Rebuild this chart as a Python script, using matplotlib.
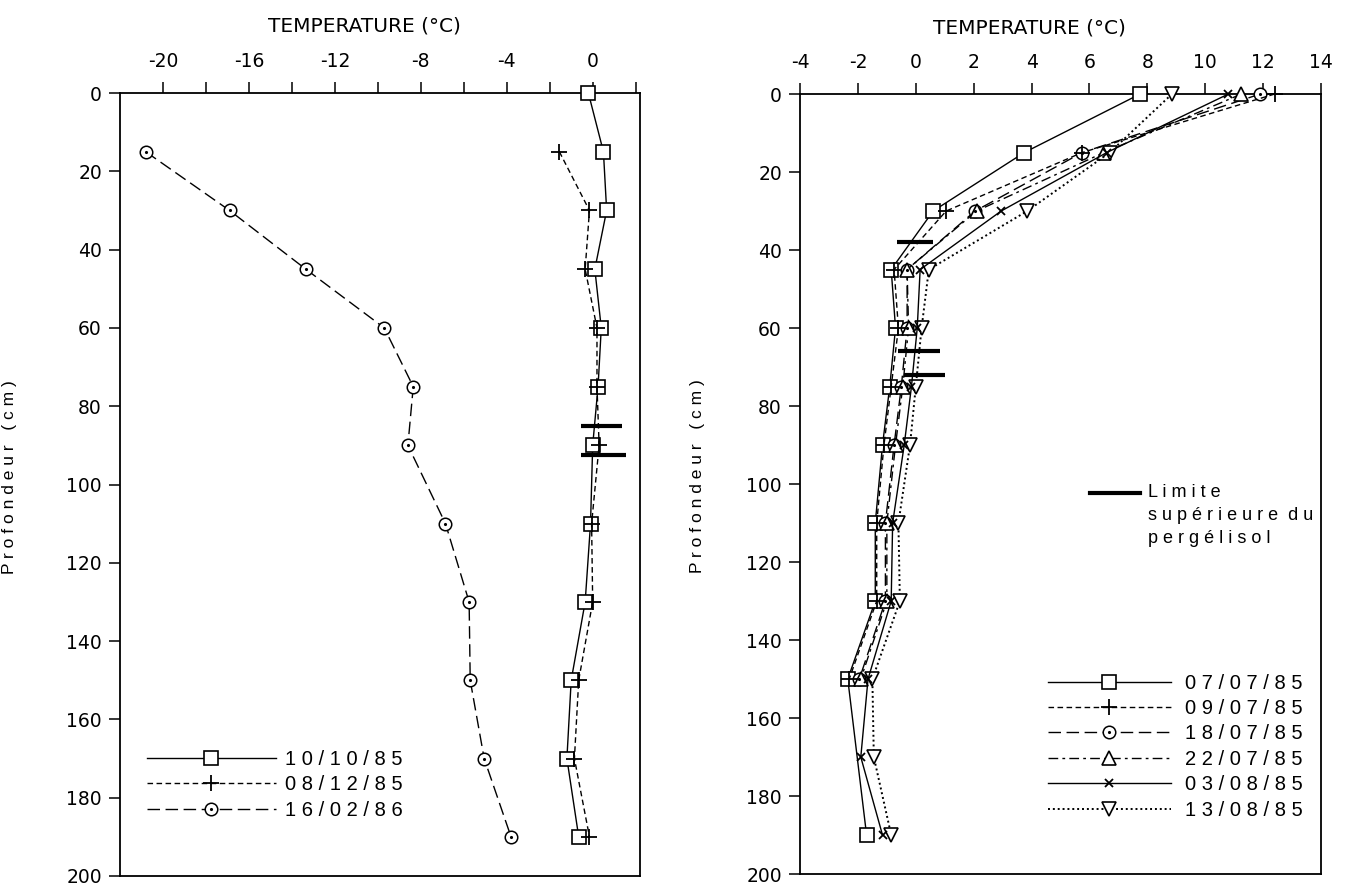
#!/usr/bin/env python3
# coding: utf-8

"""
Profils de température dans le sol (profondeur en cm)
"""

import matplotlib
matplotlib.use('Agg')
import matplotlib.pyplot as plt
from matplotlib.ticker import MultipleLocator, FixedLocator
from matplotlib.lines import Line2D

plt.rcParams['font.family'] = ['DejaVu Sans']
plt.rcParams['axes.unicode_minus'] = False

# ---- données : graphique de gauche ----
depth_l = [0, 15, 30, 45, 60, 75, 90, 110, 130, 150, 170, 190]
t_101085 = [-0.2, 0.5, 0.65, 0.1, 0.4, 0.25, 0.0, -0.1, -0.35, -1.0, -1.2, -0.65]
depth_l2 = [15, 30, 45, 60, 75, 90, 110, 130, 150, 170, 190]
t_081285 = [-1.55, -0.15, -0.35, 0.2, 0.2, 0.3, -0.05, 0.0, -0.65, -0.85, -0.15]
t_160286 = [-20.8, -16.9, -13.35, -9.7, -8.35, -8.6, -6.85, -5.75, -5.7, -5.05, -3.8]
labels_l = ['1 0 / 1 0 / 8 5', '0 8 / 1 2 / 8 5', '1 6 / 0 2 / 8 6']

# limite supérieure du pergélisol (gauche)
perma_l_depth = [85, 92.5]
perma_l_xmin = [-0.55, -0.55]
perma_l_xmax = [1.35, 1.55]

# ---- données : graphique de droite ----
depth_sq = [0, 15, 30, 45, 60, 75, 90, 110, 130, 150, 190]
t_070785 = [7.75, 3.75, 0.6, -0.85, -0.7, -0.9, -1.15, -1.4, -1.4, -2.35, -1.7]
depth_short = [0, 15, 30, 45, 60, 75, 90, 110, 130, 150]
t_090785 = [12.4, 5.75, 1.05, -0.75, -0.6, -0.85, -1.1, -1.35, -1.35, -2.3]
t_180785 = [11.9, 5.75, 2.05, -0.3, -0.3, -0.5, -0.75, -1.05, -1.05, -1.95]
t_220785 = [11.25, 6.5, 2.1, -0.3, -0.25, -0.45, -0.7, -1.0, -1.0, -1.9]
depth_long = [0, 15, 30, 45, 60, 75, 90, 110, 130, 150, 170, 190]
t_030885 = [10.8, 6.6, 2.95, 0.15, 0.05, -0.15, -0.4, -0.8, -0.85, -1.65, -1.9, -1.15]
t_130885 = [8.85, 6.7, 3.85, 0.45, 0.2, 0.0, -0.2, -0.6, -0.55, -1.5, -1.45, -0.85]
labels_r = ['0 7 / 0 7 / 8 5', '0 9 / 0 7 / 8 5', '1 8 / 0 7 / 8 5',
            '2 2 / 0 7 / 8 5', '0 3 / 0 8 / 8 5', '1 3 / 0 8 / 8 5']

# limite supérieure du pergélisol (droite)
perma_r_depth = [38, 66, 72]
perma_r_xmin = [-0.65, -0.6, -0.4]
perma_r_xmax = [0.6, 0.85, 1.0]

LEG_FONT = ['Liberation Sans', 'DejaVu Sans']

# styles de ligne
SOLID = '-'
SHORT_DASH = (0, (4, 2.5))
LONG_DASH = (0, (9, 4))
DASH_DOT = (0, (7, 3, 2, 3))
DOTTED = (0, (1, 1.5))


def style_axes(ax, xlim, major, minor):
    """Axe des x en haut, profondeur inversée."""
    ax.set_xlim(*xlim)
    ax.set_ylim(200, 0)
    ax.xaxis.tick_top()
    ax.xaxis.set_label_position('top')
    ax.xaxis.set_major_locator(FixedLocator(major))
    if minor is not None:
        ax.xaxis.set_minor_locator(FixedLocator(minor))
    ax.yaxis.set_major_locator(MultipleLocator(20))
    ax.tick_params(axis='both', which='both', direction='out', length=8, width=1.1,
                   labelsize=13.5)
    ax.tick_params(axis='x', pad=8)
    ax.tick_params(axis='y', pad=5)
    for sp in ax.spines.values():
        sp.set_linewidth(1.3)
    ax.set_xlabel('TEMPERATURE (°C)', fontsize=14.5)
    ax.set_ylabel('P r o f o n d e u r   ( c m )', fontsize=12.5, family=LEG_FONT)


fig = plt.figure(figsize=(13.45, 8.86), dpi=100)

# ================= graphique de gauche =================
ax1 = fig.add_axes([0.0892, 0.0113, 0.3866, 0.8837])
mk = dict(markerfacecolor='white', markeredgecolor='black', color='black', lw=1.0, clip_on=False)

l1, = ax1.plot(t_101085, depth_l, linestyle=SOLID, marker='s', ms=10, mew=1.2, zorder=3, **mk)
l3, = ax1.plot(t_160286, depth_l2, linestyle=LONG_DASH, marker='o', ms=9, mew=1.1, zorder=3, **mk)
l3d, = ax1.plot(t_160286, depth_l2, linestyle='none', marker='.', ms=2.5, color='black', zorder=4)
l2, = ax1.plot(t_081285, depth_l2, linestyle=SHORT_DASH, marker='+', ms=11, mew=1.3,
               color='black', lw=1.0, zorder=5)
ax1.hlines(perma_l_depth, perma_l_xmin, perma_l_xmax, colors='black', lw=3, zorder=6)

style_axes(ax1, (-22, 2.2), [-20, -16, -12, -8, -4, 0], [-18, -14, -10, -6, -2, 2])
ax1.xaxis.set_label_coords(0.47, 1.078)
ax1.yaxis.set_label_coords(-0.198, 0.51)

leg1 = ax1.legend([l1, l2, (l3, l3d)], labels_l, loc='upper left',
                  bbox_to_anchor=(0.052, 0.161), frameon=False, numpoints=1,
                  handlelength=6.4, handletextpad=0.45, labelspacing=0.32,
                  borderpad=0, borderaxespad=0,
                  prop={'family': LEG_FONT, 'size': 14.5})

# ================= graphique de droite =================
ax2 = fig.add_axes([0.5948, 0.0135, 0.3874, 0.8804])

r1, = ax2.plot(t_070785, depth_sq, linestyle=SOLID, marker='s', ms=10, mew=1.2, zorder=3, **mk)
r3, = ax2.plot(t_180785, depth_short, linestyle=LONG_DASH, marker='o', ms=9, mew=1.1, zorder=3, **mk)
r3d, = ax2.plot(t_180785, depth_short, linestyle='none', marker='.', ms=2.5, color='black',
                zorder=4, clip_on=False)
r4, = ax2.plot(t_220785, depth_short, linestyle=DASH_DOT, marker='^', ms=10, mew=1.2, zorder=3, **mk)
r6, = ax2.plot(t_130885, depth_long, linestyle=DOTTED, marker='v', ms=10, mew=1.2, zorder=3,
               markerfacecolor='white', markeredgecolor='black', color='black', lw=1.4,
               clip_on=False)
r2, = ax2.plot(t_090785, depth_short, linestyle=SHORT_DASH, marker='+', ms=11, mew=1.3,
               color='black', lw=1.0, zorder=5, clip_on=False)
r5, = ax2.plot(t_030885, depth_long, linestyle=SOLID, marker='x', ms=6, mew=1.3,
               color='black', lw=1.0, zorder=5, clip_on=False)
ax2.hlines(perma_r_depth, perma_r_xmin, perma_r_xmax, colors='black', lw=3, zorder=6)

style_axes(ax2, (-4, 14), list(range(-4, 15, 2)), None)
ax2.xaxis.set_label_coords(0.44, 1.078)
ax2.yaxis.set_label_coords(-0.182, 0.51)

ax2.legend([r1, r2, (r3, r3d), r4, r5, r6], labels_r, loc='upper left',
           bbox_to_anchor=(0.476, 0.257), frameon=False, numpoints=1,
           handlelength=6.1, handletextpad=0.7, labelspacing=0.32,
           borderpad=0, borderaxespad=0,
           prop={'family': LEG_FONT, 'size': 14.5})

# légende de la limite du pergélisol
ax2.add_line(Line2D([0.557, 0.653], [0.488, 0.488], transform=ax2.transAxes,
                    color='black', lw=3))
ax2.text(0.668, 0.488 + 0.012, 'L i m i t e\ns u p é r i e u r e  d u\np e r g é l i s o l',
         transform=ax2.transAxes, ha='left', va='top', fontsize=13,
         family=LEG_FONT, linespacing=1.45)

plt.savefig('out.png', dpi=100)
print('out.png is saved.')
